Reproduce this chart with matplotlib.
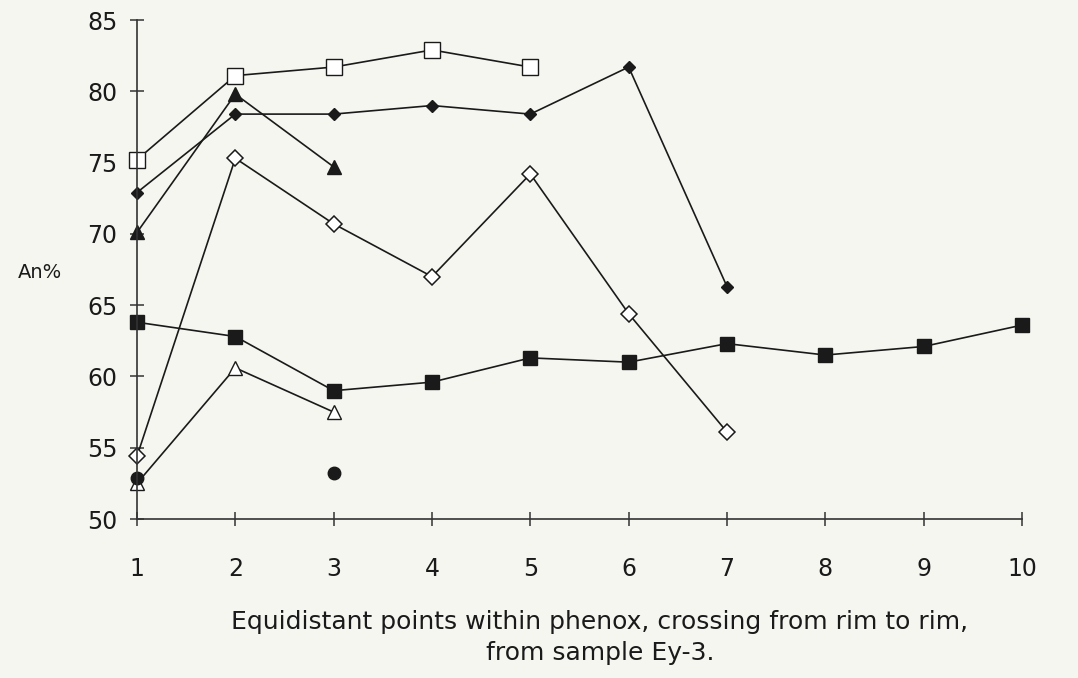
import matplotlib
matplotlib.use("Agg")
import matplotlib.pyplot as plt

OUT_PATH = "out.png"

# points along the traverse
x_open_sq = [1, 2, 3, 4, 5]
y_open_sq = [75.2, 81.1, 81.7, 82.9, 81.7]

x_fill_dia = [1, 2, 3, 4, 5, 6, 7]
y_fill_dia = [72.9, 78.4, 78.4, 79.0, 78.4, 81.7, 66.3]

x_fill_tri = [1, 2, 3]
y_fill_tri = [70.1, 79.8, 74.7]

x_open_dia = [1, 2, 3, 4, 5, 6, 7]
y_open_dia = [54.4, 75.3, 70.7, 67.0, 74.2, 64.4, 56.1]

x_fill_sq = [1, 2, 3, 4, 5, 6, 7, 8, 9, 10]
y_fill_sq = [63.8, 62.8, 59.0, 59.6, 61.3, 61.0, 62.3, 61.5, 62.1, 63.6]

x_open_tri = [1, 2, 3]
y_open_tri = [52.5, 60.6, 57.5]

x_circle = [1, 3]
y_circle = [52.9, 53.2]

x_ticks = list(range(1, 11))
y_ticks = [50, 55, 60, 65, 70, 75, 80, 85]

BG = "#f6f6f1"
INK = "#1a1a1a"

plt.rcParams["font.family"] = ["DejaVu Sans"]

fig = plt.figure(figsize=(10.78, 6.78), dpi=100)
fig.patch.set_facecolor(BG)
ax = fig.add_axes([137 / 1078, 1 - 519 / 678, (1022 - 137) / 1078, (519 - 20) / 678])
ax.set_facecolor(BG)

line_kw = dict(color=INK, linewidth=1.2, clip_on=False)

ax.plot(x_open_tri, y_open_tri, marker="^", markersize=10, markerfacecolor="white",
        markeredgecolor=INK, markeredgewidth=1.0, **line_kw)
ax.plot(x_circle, y_circle, linestyle="none", marker="o", markersize=9,
        markerfacecolor=INK, markeredgecolor=INK, clip_on=False)
ax.plot(x_fill_sq, y_fill_sq, marker="s", markersize=10.5, markerfacecolor=INK,
        markeredgecolor=INK, **line_kw)
ax.plot(x_open_dia, y_open_dia, marker="D", markersize=8.5, markerfacecolor="white",
        markeredgecolor=INK, markeredgewidth=1.1, **line_kw)
ax.plot(x_fill_tri, y_fill_tri, marker="^", markersize=10, markerfacecolor=INK,
        markeredgecolor=INK, **line_kw)
ax.plot(x_fill_dia, y_fill_dia, marker="D", markersize=6.5, markerfacecolor=INK,
        markeredgecolor=INK, **line_kw)
ax.plot(x_open_sq, y_open_sq, marker="s", markersize=12, markerfacecolor="white",
        markeredgecolor=INK, markeredgewidth=1.0, **line_kw)

ax.set_xlim(1, 10)
ax.set_ylim(50, 85)
ax.set_xticks(x_ticks)
ax.set_yticks(y_ticks)

for side in ("top", "right"):
    ax.spines[side].set_visible(False)
for side in ("left", "bottom"):
    ax.spines[side].set_color("#333333")
    ax.spines[side].set_linewidth(1.2)

ax.tick_params(axis="both", direction="inout", length=10, width=1.1, color="#333333",
               labelsize=17, labelcolor=INK)
ax.tick_params(axis="x", pad=22)
ax.tick_params(axis="y", pad=9)

fig.text(40 / 1078, 1 - 272 / 678, "An%", fontsize=14, color=INK, ha="center", va="center")
fig.text(600 / 1078, 1 - 622 / 678, "Equidistant points within phenox, crossing from rim to rim,",
         fontsize=18, color=INK, ha="center", va="center")
fig.text(600 / 1078, 1 - 653 / 678, "from sample Ey-3.",
         fontsize=18, color=INK, ha="center", va="center")

fig.savefig(OUT_PATH, dpi=100, facecolor=fig.get_facecolor())
plt.close(fig)
